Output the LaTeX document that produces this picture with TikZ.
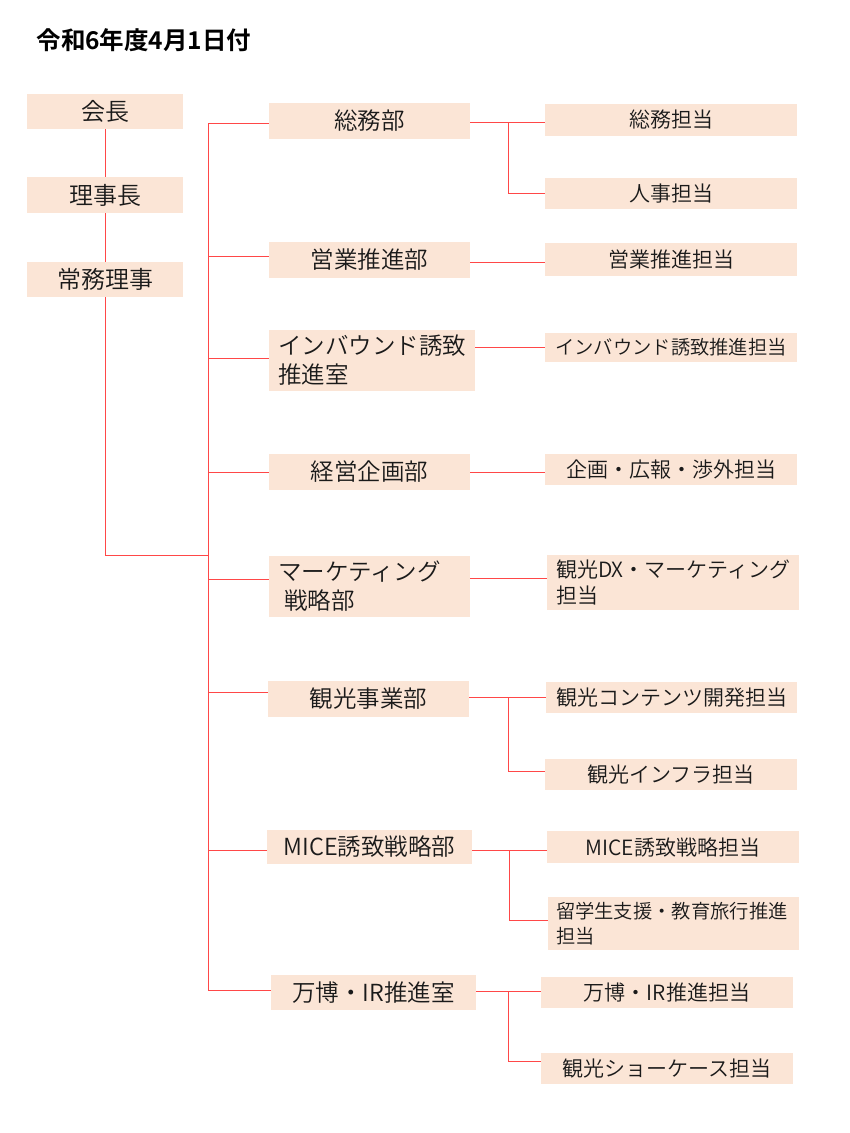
\documentclass[tikz,border=0pt]{standalone}
\usepackage{fontspec}
\setmainfont{Noto Sans CJK JP}[UprightFont=* DemiLight, BoldFont=* Bold]
\definecolor{boxfill}{HTML}{FBE5D6}
\definecolor{lnred}{HTML}{FF4747}
\definecolor{txt}{HTML}{1A1A1A}
\tikzset{
 orgbox/.style={fill=boxfill, text=txt, inner sep=0pt, font=\fontsize{23.5}{29}\selectfont},
 subbox/.style={orgbox, font=\fontsize{21}{26}\selectfont},
 smallsub/.style={orgbox, font=\fontsize{19.3}{25}\selectfont},
 topbox/.style={orgbox, font=\fontsize{24}{29}\selectfont},
 conn/.style={draw=lnred, line width=0.9pt},
}
\newcommand\ob[7]{\node[#6, minimum width={(#4-#2)*1pt}, minimum height={(#5-#3)*1pt}] (#1) at ({(#2+#4)/2},{(#3+#5)/2}) {#7};}
\begin{document}
\begin{tikzpicture}[x=1pt,y=-1pt]
\useasboundingbox (0,0) rectangle (850,1133);
\node[anchor=west, text=black, font=\fontsize{24.5}{29}\selectfont\bfseries] (title) at (33,40) {令和6年度4月1日付};
% left column
\ob{kaicho}{27}{94}{183}{129}{topbox}{会長}
\ob{riji}{27}{177}{183}{213}{topbox}{理事長}
\ob{jomu}{27}{262}{183}{297}{topbox}{常務理事}
% departments
\ob{d1}{269}{103}{470}{139}{orgbox}{総務部}
\ob{d2}{269}{242}{470}{278}{orgbox}{営業推進部}
\ob{d3}{269}{330}{475}{391}{orgbox,align=left,text width=188pt}{インバウンド誘致\\推進室}
\ob{d4}{269}{454}{470}{490}{orgbox}{経営企画部}
\ob{d5}{269}{556}{470}{617}{orgbox,align=left,text width=183pt}{マーケティング\\\hspace*{6pt}戦略部}
\ob{d6}{268}{681}{469}{717}{orgbox}{観光事業部}
\ob{d7}{267}{830}{472}{864}{orgbox}{MICE誘致戦略部}
\ob{d8}{271}{975}{476}{1010}{orgbox}{万博・IR推進室}
% sections
\ob{r1a}{545}{104}{797}{136}{subbox}{総務担当}
\ob{r1b}{545}{178}{797}{209}{subbox}{人事担当}
\ob{r2}{545}{243}{797}{276}{subbox}{営業推進担当}
\ob{r3}{545}{333}{797}{362}{smallsub}{インバウンド誘致推進担当}
\ob{r4}{545}{454}{797}{485}{subbox}{企画・広報・渉外担当}
\ob{r5}{547}{555}{799}{610}{subbox,align=left,text width=234pt}{観光DX・マーケティング\\担当}
\ob{r6a}{546}{682}{797}{713}{subbox}{観光コンテンツ開発担当}
\ob{r6b}{545}{759}{797}{790}{subbox}{観光インフラ担当}
\ob{r7a}{547}{831}{799}{863}{subbox}{MICE誘致戦略担当}
\ob{r7b}{548}{897}{799}{950}{smallsub,align=left,text width=235pt}{留学生支援・教育旅行推進\\担当}
\ob{r8a}{541}{977}{793}{1008}{subbox}{万博・IR推進担当}
\ob{r8b}{541}{1053}{793}{1084}{subbox}{観光ショーケース担当}
% trunk junctions
\coordinate (j1) at (208,123);
\coordinate (j2) at (208,256);
\coordinate (j3) at (208,358);
\coordinate (j4) at (208,472);
\coordinate (j5) at (208,579);
\coordinate (j6) at (208,692);
\coordinate (j7) at (208,850);
\coordinate (j8) at (208,990);
\coordinate (corner) at (105,555);
% right junctions
\coordinate (k1) at (508,122);
\coordinate (k2) at (508,262);
\coordinate (k3) at (508,347);
\coordinate (k4) at (508,472);
\coordinate (k5) at (508,578);
\coordinate (k6) at (508,697);
\coordinate (k7) at (509,850);
\coordinate (k8) at (508,991);
% left column lines
\draw[conn] (kaicho.south) -- (riji.north);
\draw[conn] (riji.south) -- (jomu.north);
\draw[conn] (jomu.south) -- (corner) -- (corner -| j1);
% trunk
\draw[conn] (j1) -- (j8);
\foreach \i/\d in {1/d1,2/d2,3/d3,4/d4,5/d5,6/d6,7/d7,8/d8}
  \draw[conn] (j\i) -- (j\i -| \d.west);
% department to section
\draw[conn] (k1 -| d1.east) -- (k1 -| r1a.west);
\draw[conn] (k1) |- (r1b.west);
\draw[conn] (k2 -| d2.east) -- (k2 -| r2.west);
\draw[conn] (k3 -| d3.east) -- (k3 -| r3.west);
\draw[conn] (k4 -| d4.east) -- (k4 -| r4.west);
\draw[conn] (k5 -| d5.east) -- (k5 -| r5.west);
\draw[conn] (k6 -| d6.east) -- (k6 -| r6a.west);
\draw[conn] (k6) |- ([yshift=3pt]r6b.west);
\draw[conn] (k7 -| d7.east) -- (k7 -| r7a.west);
\draw[conn] (k7) |- ([yshift=3pt]r7b.west);
\draw[conn] (k8 -| d8.east) -- (k8 -| r8a.west);
\draw[conn] (k8) |- ([yshift=7.5pt]r8b.west);
\end{tikzpicture}
\end{document}
